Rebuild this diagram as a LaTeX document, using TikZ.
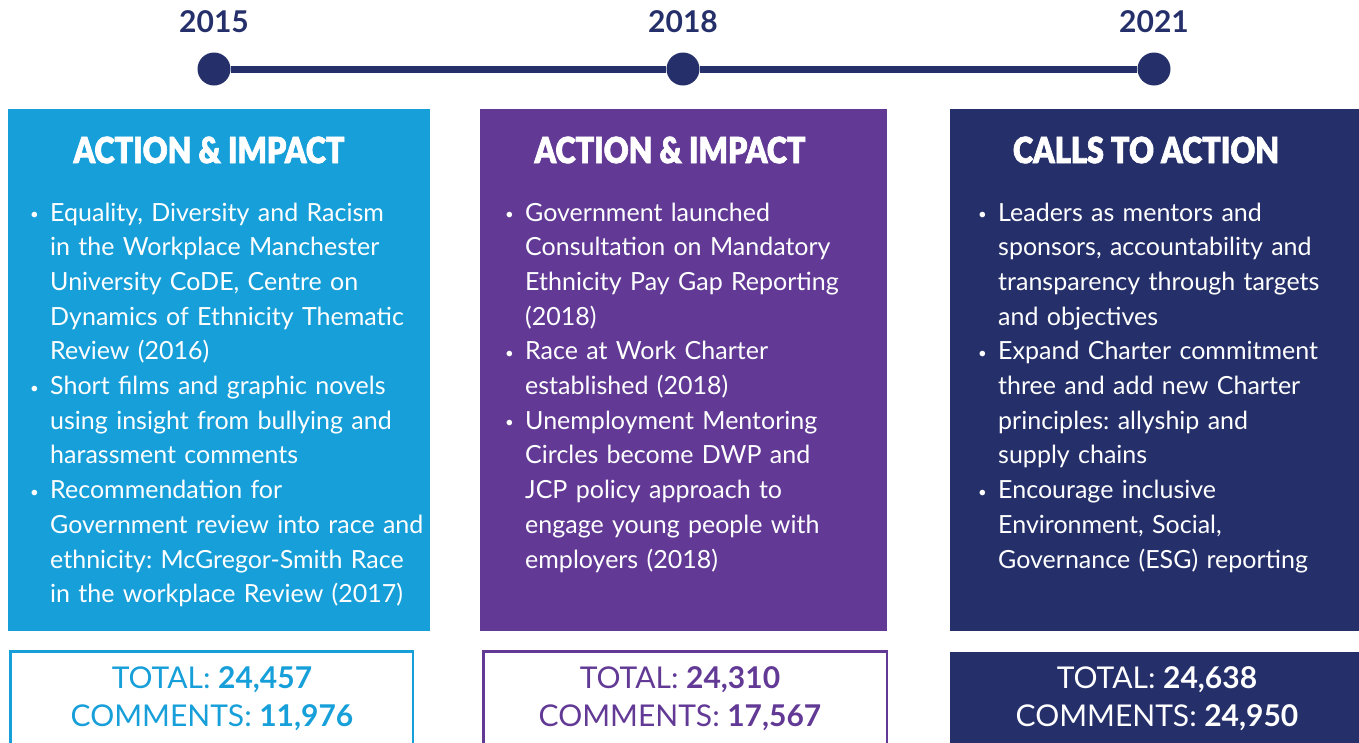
\documentclass[tikz,border=0pt]{standalone}
\usepackage{fontspec}
\setmainfont{Lato}
\newfontfamily\headfont[FakeStretch=0.85, FakeBold=1.8]{Lato Black}
\frenchspacing

% small bullet with hanging indent for the lists
\newcommand\bdot{\makebox[20pt][l]{\raisebox{1.5pt}{\fontsize{15}{15}\selectfont\textbullet}}}
\newcommand\bfirst{\hangindent=20pt\hangafter=1\bdot}
\newcommand\bpoint{\par\noindent\bfirst}

\begin{document}
\begin{tikzpicture}[
        x=1pt,
        y=-1pt,
        yeardot/.style={
            circle,
            fill=navyblue,
            inner sep=0pt,
            minimum size=33pt
          },
        yearlabel/.style={
            font=\fontsize{30}{30}\selectfont\bfseries,
            text=navyblue,
            inner sep=0pt
          },
        panel/.style={
            anchor=north west,
            inner sep=0pt,
            minimum width=#1
          },
        heading/.style={
            font=\headfont\fontsize{36}{36}\selectfont,
            text=white,
            inner sep=0pt
          },
        bullets/.style={
            anchor=base west,
            inner sep=0pt,
            text width=400pt,
            text=white,
            font=\fontsize{25}{34.7}\selectfont
          },
        totals/.style={
            align=center,
            inner sep=0pt,
            font=\fontsize{30}{38}\selectfont
          }]
        % Define colors
        \definecolor{skyblue}{RGB}{22,159,217}   % first column
        \definecolor{violet}{RGB}{98,58,150}     % second column
        \definecolor{navyblue}{RGB}{37,48,107}   % third column and timeline

        \useasboundingbox (0,0) rectangle (1359,742);

        % Timeline
        \node[yeardot] (d2015) at (214,69) {};
        \node[yeardot] (d2018) at (683,69) {};
        \node[yeardot] (d2021) at (1154,69) {};
        \draw[navyblue, line width=7pt] (d2015) -- (d2018) -- (d2021);
        \node[yearlabel] (y2015) at (214,22) {2015};
        \node[yearlabel] (y2018) at (683,22) {2018};
        \node[yearlabel] (y2021) at (1154,22) {2021};

        % Coloured panels
        \node[panel=422pt, minimum height=522pt, fill=skyblue] (p2015) at (8,109) {};
        \node[panel=407pt, minimum height=522pt, fill=violet] (p2018) at (480,109) {};
        \node[panel=409pt, minimum height=522pt, fill=navyblue] (p2021) at (950,109) {};

        \node[heading] (h2015) at (209,150) {ACTION \& IMPACT};
        \node[heading] (h2018) at (670,150) {ACTION \& IMPACT};
        \node[heading] (h2021) at (1146,150) {CALLS TO ACTION};

        % Bullet lists
        \node[bullets] (l2015) at (30,221) {\bfirst
            Equality, Diversity and Racism\newline in the Workplace Manchester\newline
            University CoDE, Centre on\newline Dynamics of Ethnicity Thematic\newline Review (2016)
            \bpoint Short films and graphic novels\newline using insight from bullying and\newline
            harassment comments
            \bpoint Recommendation for\newline Government review into race and\newline
            ethnicity: McGregor-Smith Race\newline in the workplace Review (2017)\par};
        \node[bullets] (l2018) at (505,221) {\bfirst
            Government launched\newline Consultation on Mandatory\newline
            Ethnicity Pay Gap Reporting\newline (2018)
            \bpoint Race at Work Charter\newline established (2018)
            \bpoint Unemployment Mentoring\newline Circles become DWP and\newline
            JCP policy approach to\newline engage young people with\newline employers (2018)\par};
        \node[bullets] (l2021) at (978,221) {\bfirst
            Leaders as mentors and\newline sponsors, accountability and\newline
            transparency through targets\newline and objectives
            \bpoint Expand Charter commitment\newline three and add new Charter\newline
            principles: allyship and\newline supply chains
            \bpoint Encourage inclusive\newline Environment, Social,\newline
            Governance (ESG) reporting\par};

        % Totals
        \node[panel=402.5pt, minimum height=120pt, draw=skyblue, line width=2.5pt] (t2015) at (9.25,650.25) {};
        \node[panel=403.5pt, minimum height=120pt, draw=violet, line width=2.5pt] (t2018) at (482.25,650.25) {};
        \node[panel=409pt, minimum height=120pt, fill=navyblue] (t2021) at (950,652) {};

        \node[totals, text=skyblue] (n2015) at (212,699) {TOTAL: \textbf{24,457}\\ COMMENTS: \textbf{11,976}};
        \node[totals, text=violet] (n2018) at (680,699) {TOTAL: \textbf{24,310}\\ COMMENTS: \textbf{17,567}};
        \node[totals, text=white] (n2021) at (1157,699) {TOTAL: \textbf{24,638}\\ COMMENTS: \textbf{24,950}};
    \end{tikzpicture}
\end{document}
